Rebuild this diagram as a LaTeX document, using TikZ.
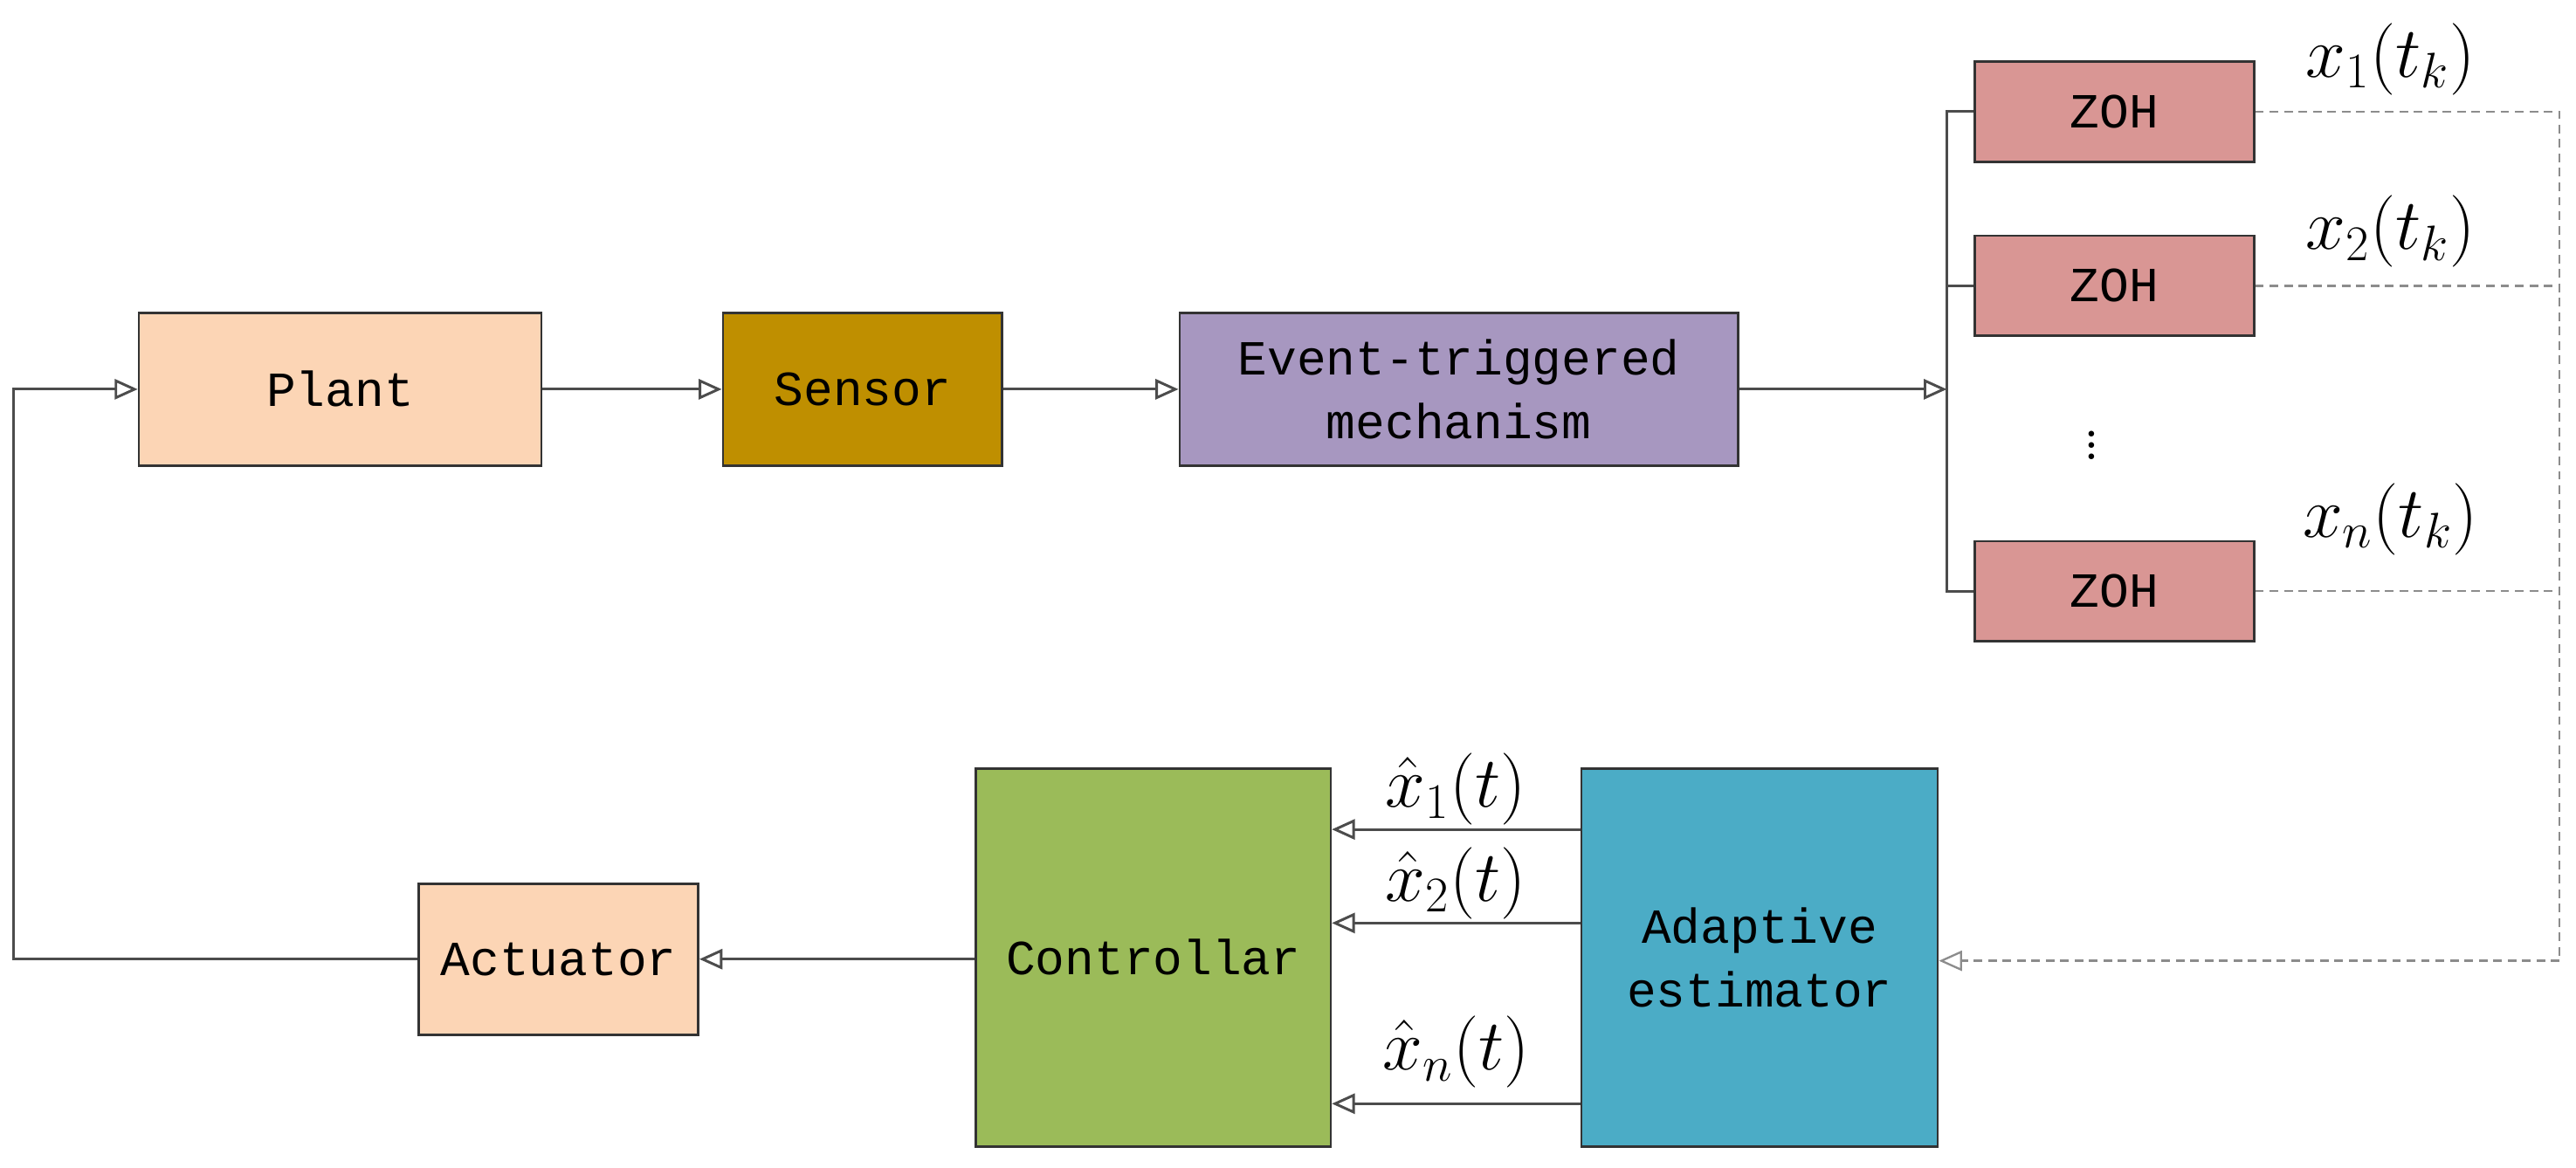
\documentclass[tikz,border=0pt]{standalone}
\usepackage{fontspec}
\setmonofont{Liberation Mono}
\usetikzlibrary{arrows.meta}
\definecolor{plantc}{HTML}{FCD5B5}
\definecolor{sensorc}{HTML}{BF8F00}
\definecolor{eventc}{HTML}{A797C0}
\definecolor{zohc}{HTML}{D99694}
\definecolor{ctrlc}{HTML}{9BBB59}
\definecolor{estc}{HTML}{4BACC6}
\begin{document}
\begin{tikzpicture}[x=0.02cm,y=-0.02cm,
		blk/.style={draw=black!80,line width=0.8pt,inner sep=0pt,align=center,
			font=\ttfamily\fontsize{17}{22}\selectfont},
		sig/.style={draw=black!70,line width=0.9pt,-{Triangle[open,length=8pt,width=7pt]}},
		dsh/.style={draw=black!45,line width=0.7pt,densely dashed},
		lbl/.style={font=\fontsize{25}{26}\selectfont,inner sep=1pt}
		]
		\useasboundingbox (0,0) rectangle (1568,711);
		% top row
		\node[blk,fill=plantc,minimum width=4.9cm,minimum height=1.86cm](plant) at (207,237){Plant};
		\node[blk,fill=sensorc,minimum width=3.4cm,minimum height=1.86cm](sensor) at (525,237){Sensor};
		\node[blk,fill=eventc,minimum width=6.8cm,minimum height=1.86cm](event) at (888,237){Event-triggered\\mechanism};
		\coordinate (split) at (1185,237);
		\draw[sig] (plant) -- (sensor);
		\draw[sig] (sensor) -- (event);
		\draw[sig] (event) -- (split);
		% ZOH blocks
		\node[blk,fill=zohc,minimum width=3.4cm,minimum height=1.22cm](zoh1) at (1287,68){ZOH};
		\node[blk,fill=zohc,minimum width=3.4cm,minimum height=1.22cm](zoh2) at (1287,174){ZOH};
		\node[blk,fill=zohc,minimum width=3.4cm,minimum height=1.22cm](zohn) at (1287,360){ZOH};
		\node[font=\fontsize{24}{24}\selectfont](dots) at (1273,266){$\vdots$};
		\draw[black!70,line width=0.9pt] (zoh1.west) -- (1185,68) -- (1185,360) -- (zohn.west);
		\draw[black!70,line width=0.9pt] (1185,174) -- (zoh2.west);
		\node[lbl](l1) at (1455,36){$x_1(t_k)$};
		\node[lbl](l2) at (1455,141){$x_2(t_k)$};
		\node[lbl](ln) at (1455,316){$x_n(t_k)$};
		% bottom row
		\node[blk,fill=estc,minimum width=4.34cm,minimum height=4.6cm](est) at (1071,583){Adaptive\\estimator};
		\node[blk,fill=ctrlc,minimum width=4.32cm,minimum height=4.6cm](ctrl) at (702,583){Controllar};
		\node[blk,fill=plantc,minimum width=3.4cm,minimum height=1.84cm](act) at (340,584){Actuator};
		\coordinate (c1) at (1558,68);
		\coordinate (c3) at (1558,585);
		\draw[dsh] (zoh1.east) -- (c1) -- (c3);
		\draw[dsh] (zoh2.east) -- (1558,174);
		\draw[dsh] (zohn.east) -- (1558,360);
		\draw[dsh,-{Triangle[open,length=8pt,width=7pt]}] (c3) -- (est.east |- c3);
		\draw[sig] (est.west |- 0,505) -- (ctrl.east |- 0,505) node[midway,above,lbl]{$\hat{x}_1(t)$};
		\draw[sig] (est.west |- 0,562) -- (ctrl.east |- 0,562) node[midway,above,lbl]{$\hat{x}_2(t)$};
		\draw[sig] (est.west |- 0,672) -- (ctrl.east |- 0,672) node[midway,above,lbl,yshift=4pt]{$\hat{x}_n(t)$};
		\draw[sig] (ctrl.west |- act) -- (act);
		\draw[sig] (act.west) -- (8,584) -- (8,237) -- (plant.west);
	\end{tikzpicture}
\end{document}
